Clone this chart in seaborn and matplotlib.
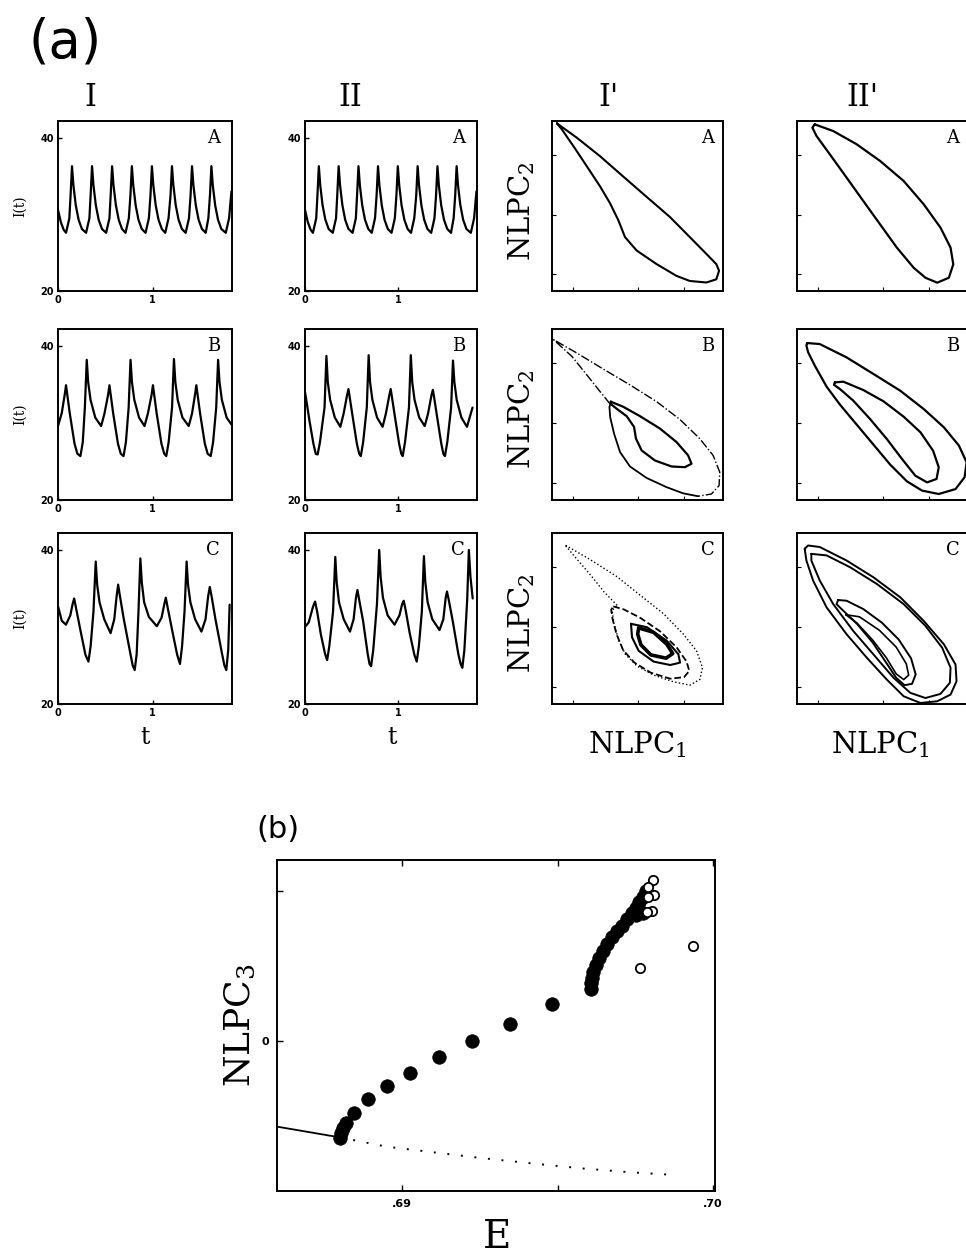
import matplotlib
matplotlib.use("Agg")
import matplotlib.pyplot as plt
import seaborn as sns

W, H = 966, 1259

# ---------------------------------------------------------------------------
# (a) time series I(t), columns I and II, rows A/B/C
# ---------------------------------------------------------------------------
A_T = [0.000, 0.030, 0.060,
       0.085, 0.120, 0.133, 0.148, 0.163, 0.188, 0.218, 0.253,
       0.297, 0.332, 0.345, 0.360, 0.375, 0.400, 0.430, 0.465,
       0.509, 0.544, 0.557, 0.572, 0.587, 0.612, 0.642, 0.677,
       0.714, 0.749, 0.766, 0.781, 0.796, 0.821, 0.851, 0.886,
       0.926, 0.961, 0.978, 0.993, 1.008, 1.033, 1.063, 1.098,
       1.134, 1.169, 1.190, 1.205, 1.220, 1.245, 1.275, 1.310,
       1.350, 1.385, 1.402, 1.417, 1.432, 1.457, 1.487, 1.522,
       1.562, 1.590, 1.607, 1.622, 1.637, 1.662, 1.692, 1.727,
       1.774, 1.809, 1.834]
A_I = [30.6, 29.0, 28.0,
       27.6, 29.5, 32.5, 36.3, 33.8, 31.2, 29.3, 28.1,
       27.6, 29.5, 32.5, 36.3, 33.8, 31.2, 29.3, 28.1,
       27.6, 29.5, 32.5, 36.3, 33.8, 31.2, 29.3, 28.1,
       27.6, 29.5, 32.5, 36.3, 33.8, 31.2, 29.3, 28.1,
       27.6, 29.5, 32.5, 36.3, 33.8, 31.2, 29.3, 28.1,
       27.6, 29.5, 32.5, 36.3, 33.8, 31.2, 29.3, 28.1,
       27.6, 29.5, 32.5, 36.3, 33.8, 31.2, 29.3, 28.1,
       27.6, 29.5, 32.5, 36.3, 33.8, 31.2, 29.3, 28.1,
       27.6, 29.5, 33.0]

IB_T = [0.000, 0.040, 0.070, 0.085, 0.100, 0.125, 0.175, 0.205, 0.237, 0.262, 0.284, 0.304,
        0.319, 0.344, 0.394, 0.456, 0.491, 0.529, 0.544, 0.559, 0.584, 0.634, 0.664, 0.693,
        0.718, 0.747, 0.767, 0.782, 0.807, 0.857, 0.915, 0.950, 0.989, 1.004, 1.019, 1.044,
        1.094, 1.124, 1.145, 1.170, 1.206, 1.226, 1.241, 1.266, 1.316, 1.382, 1.417, 1.448,
        1.463, 1.478, 1.503, 1.553, 1.583, 1.615, 1.640, 1.673, 1.693, 1.708, 1.733, 1.783,
        1.834]
IB_I = [29.6, 31.3, 33.6, 34.9, 33.5, 31.2, 27.3, 26.0, 25.7, 27.5, 32.0, 38.2,
        35.3, 33.0, 30.7, 29.6, 31.2, 33.6, 34.9, 33.5, 31.2, 27.3, 26.0, 25.7,
        27.5, 32.0, 38.2, 35.3, 33.0, 30.7, 29.6, 31.2, 33.6, 34.9, 33.5, 31.2,
        27.3, 26.0, 25.7, 27.5, 32.0, 38.3, 35.3, 33.0, 30.7, 29.6, 31.2, 33.6,
        34.9, 33.5, 31.2, 27.3, 26.0, 25.7, 27.5, 32.0, 38.2, 35.3, 33.0, 30.7,
        29.8]

IIB_T = [0.000, 0.020, 0.045, 0.090, 0.115, 0.135, 0.160, 0.209, 0.229, 0.244, 0.269, 0.319,
         0.378, 0.413, 0.450, 0.465, 0.480, 0.505, 0.555, 0.580, 0.597, 0.622, 0.661, 0.681,
         0.696, 0.721, 0.771, 0.830, 0.865, 0.902, 0.917, 0.932, 0.957, 1.007, 1.030, 1.045,
         1.070, 1.112, 1.132, 1.147, 1.172, 1.222, 1.281, 1.316, 1.353, 1.368, 1.383, 1.408,
         1.458, 1.480, 1.497, 1.522, 1.563, 1.583, 1.598, 1.623, 1.673, 1.733, 1.792]
IIB_I = [34.0, 32.5, 30.5, 27.3, 26.0, 25.9, 27.5, 32.0, 38.7, 35.3, 33.0, 30.7,
         29.5, 31.2, 33.6, 34.4, 33.2, 31.2, 27.3, 26.0, 25.7, 27.5, 32.0, 38.8,
         35.3, 33.0, 30.7, 29.5, 31.2, 33.6, 34.4, 33.2, 31.2, 27.3, 26.0, 25.7,
         27.5, 32.0, 38.8, 35.3, 33.0, 30.7, 29.6, 31.2, 33.6, 34.3, 33.2, 31.2,
         27.3, 26.0, 25.7, 27.5, 32.0, 38.1, 35.3, 33.0, 30.7, 29.5, 32.0]

IC_T = [0.000, 0.040, 0.084, 0.130, 0.155, 0.171, 0.190, 0.240, 0.290, 0.322, 0.345, 0.375,
        0.399, 0.414, 0.439, 0.489, 0.556, 0.595, 0.620, 0.636, 0.655, 0.696, 0.766, 0.790,
        0.811, 0.832, 0.851, 0.871, 0.886, 0.911, 0.961, 1.045, 1.095, 1.125, 1.140, 1.160,
        1.210, 1.260, 1.290, 1.312, 1.338, 1.360, 1.375, 1.400, 1.450, 1.517, 1.560, 1.588,
        1.605, 1.624, 1.665, 1.735, 1.760, 1.780, 1.800, 1.815]
IC_I = [32.7, 30.8, 30.3, 31.5, 33.0, 33.7, 32.5, 29.4, 26.4, 25.5, 27.5, 32.0,
        38.5, 35.5, 33.2, 31.0, 29.2, 31.0, 34.0, 35.5, 34.0, 31.0, 26.5, 25.0,
        24.4, 26.5, 32.0, 38.9, 35.8, 33.2, 31.3, 30.1, 31.2, 33.0, 33.8, 32.5,
        29.4, 26.4, 25.2, 27.5, 32.0, 38.5, 35.5, 33.2, 31.0, 29.4, 31.0, 34.0,
        35.2, 34.0, 31.0, 26.5, 25.0, 24.4, 27.0, 32.9]

IIC_T = [0.000, 0.040, 0.085, 0.108, 0.130, 0.170, 0.215, 0.237, 0.260, 0.300, 0.324, 0.339,
         0.364, 0.414, 0.481, 0.520, 0.545, 0.561, 0.580, 0.621, 0.671, 0.690, 0.707, 0.730,
         0.770, 0.794, 0.809, 0.834, 0.884, 0.958, 1.010, 1.040, 1.056, 1.075, 1.120, 1.170,
         1.195, 1.218, 1.250, 1.272, 1.287, 1.312, 1.362, 1.439, 1.480, 1.505, 1.519, 1.538,
         1.580, 1.640, 1.665, 1.683, 1.705, 1.735, 1.753, 1.770, 1.794]
IIC_I = [30.0, 30.6, 32.6, 33.3, 32.0, 29.0, 26.5, 25.7, 27.5, 32.0, 39.1, 35.8,
         33.2, 31.0, 29.4, 31.0, 33.8, 34.8, 33.5, 30.8, 26.5, 25.2, 24.9, 27.0,
         33.0, 40.0, 36.5, 33.8, 31.5, 30.3, 31.5, 33.0, 33.4, 32.3, 29.2, 26.4,
         25.5, 27.5, 32.0, 39.2, 35.8, 33.2, 31.0, 29.6, 31.0, 33.8, 34.6, 33.5,
         30.8, 26.5, 25.2, 24.7, 27.0, 33.5, 40.0, 36.5, 33.7]

# ---------------------------------------------------------------------------
# (a) phase portraits NLPC1 vs NLPC2 (normalised panel units), columns I' and II'
# ---------------------------------------------------------------------------
IPA_X = [0.029, 0.146, 0.282, 0.417, 0.553, 0.689, 0.806, 0.903, 0.961, 0.977, 0.961, 0.903,
         0.806, 0.728, 0.612, 0.495, 0.427, 0.388, 0.340, 0.282, 0.204, 0.126, 0.058, 0.029]
IPA_Y = [0.986, 0.901, 0.792, 0.673, 0.554, 0.436, 0.317, 0.218, 0.158, 0.119, 0.069, 0.050,
         0.059, 0.089, 0.158, 0.238, 0.317, 0.416, 0.515, 0.614, 0.733, 0.851, 0.950, 0.986]

IIPA_X = [0.104, 0.212, 0.349, 0.486, 0.624, 0.741, 0.839, 0.898, 0.914, 0.888, 0.820,
          0.751, 0.682, 0.584, 0.486, 0.388, 0.290, 0.192, 0.114, 0.090, 0.104]
IIPA_Y = [0.980, 0.941, 0.863, 0.765, 0.647, 0.510, 0.373, 0.255, 0.157, 0.078, 0.049,
          0.078, 0.137, 0.255, 0.392, 0.529, 0.667, 0.804, 0.912, 0.961, 0.980]

IPB_DASH_X = [0.340, 0.282, 0.204, 0.117, 0.010, 0.146, 0.301, 0.456, 0.612, 0.748, 0.864,
              0.942, 0.981, 0.977, 0.932, 0.854]
IPB_DASH_Y = [0.561, 0.633, 0.731, 0.839, 0.937, 0.859, 0.765, 0.673, 0.575, 0.471, 0.359,
              0.261, 0.163, 0.084, 0.035, 0.022]
IPB_LOW_X = [0.854, 0.767, 0.670, 0.553, 0.456, 0.398, 0.363, 0.340, 0.336, 0.344]
IPB_LOW_Y = [0.022, 0.039, 0.075, 0.129, 0.196, 0.280, 0.388, 0.486, 0.545, 0.569]
IPB_IN_X = [0.344, 0.417, 0.515, 0.631, 0.728, 0.796, 0.816, 0.777, 0.699, 0.602, 0.524,
            0.491, 0.480, 0.437, 0.379, 0.344, 0.344]
IPB_IN_Y = [0.575, 0.545, 0.490, 0.418, 0.339, 0.261, 0.212, 0.192, 0.196, 0.231, 0.290,
            0.359, 0.427, 0.490, 0.533, 0.561, 0.575]

IIPB_OUT_X = [0.059, 0.133, 0.290, 0.447, 0.604, 0.741, 0.859, 0.947, 0.992, 0.980, 0.927,
              0.829, 0.731, 0.643, 0.545, 0.447, 0.349, 0.251, 0.173, 0.104, 0.065, 0.055, 0.059]
IIPB_OUT_Y = [0.918, 0.912, 0.834, 0.737, 0.639, 0.532, 0.425, 0.318, 0.220, 0.133, 0.064,
              0.035, 0.055, 0.109, 0.207, 0.324, 0.441, 0.558, 0.663, 0.786, 0.864, 0.903, 0.918]
IIPB_IN_X = [0.222, 0.271, 0.388, 0.506, 0.624, 0.722, 0.796, 0.829, 0.816, 0.761, 0.692,
             0.614, 0.525, 0.427, 0.329, 0.251, 0.216, 0.222]
IIPB_IN_Y = [0.688, 0.692, 0.643, 0.577, 0.487, 0.396, 0.288, 0.191, 0.123, 0.103, 0.142,
             0.240, 0.357, 0.474, 0.581, 0.649, 0.674, 0.688]

IPC_TAIL_X = [0.381, 0.304, 0.226, 0.149, 0.075, 0.226, 0.381, 0.516, 0.652, 0.768, 0.845,
              0.880, 0.865, 0.807, 0.710, 0.594, 0.497, 0.429, 0.391, 0.362, 0.352, 0.381]
IPC_TAIL_Y = [0.577, 0.656, 0.754, 0.843, 0.931, 0.843, 0.744, 0.636, 0.528, 0.409, 0.311,
              0.213, 0.144, 0.110, 0.130, 0.169, 0.222, 0.291, 0.370, 0.469, 0.547, 0.577]
IPC_MID_X = [0.358, 0.420, 0.516, 0.632, 0.729, 0.787, 0.803, 0.772, 0.691, 0.578, 0.482,
             0.416, 0.377, 0.354, 0.346, 0.358]
IPC_MID_Y = [0.571, 0.553, 0.504, 0.425, 0.331, 0.248, 0.193, 0.157, 0.148, 0.183, 0.242,
             0.315, 0.409, 0.498, 0.551, 0.571]
IPC_IN_X = [0.462, 0.555, 0.671, 0.739, 0.749, 0.691, 0.594, 0.507, 0.468, 0.462]
IPC_IN_Y = [0.469, 0.449, 0.370, 0.291, 0.242, 0.228, 0.248, 0.311, 0.390, 0.469]
IPC_CORE_X = [0.507, 0.594, 0.671, 0.706, 0.667, 0.578, 0.520, 0.501, 0.507]
IPC_CORE_Y = [0.445, 0.419, 0.350, 0.295, 0.268, 0.287, 0.346, 0.409, 0.445]

IIPC_O1_X = [0.045, 0.065, 0.133, 0.290, 0.447, 0.604, 0.741, 0.859, 0.927, 0.933, 0.898,
             0.820, 0.722, 0.624, 0.525, 0.408, 0.290, 0.173, 0.094, 0.055, 0.045]
IIPC_O1_Y = [0.908, 0.927, 0.918, 0.839, 0.741, 0.624, 0.486, 0.349, 0.231, 0.133, 0.055,
             0.016, 0.006, 0.045, 0.143, 0.271, 0.408, 0.565, 0.722, 0.839, 0.908]
IIPC_O2_X = [0.084, 0.173, 0.310, 0.467, 0.624, 0.751, 0.849, 0.898, 0.894, 0.839, 0.751,
             0.663, 0.565, 0.447, 0.329, 0.212, 0.133, 0.084, 0.084]
IIPC_O2_Y = [0.878, 0.869, 0.800, 0.702, 0.584, 0.457, 0.329, 0.212, 0.124, 0.059, 0.035,
             0.065, 0.153, 0.290, 0.427, 0.584, 0.722, 0.839, 0.878]
IIPC_I1_X = [0.241, 0.290, 0.388, 0.496, 0.594, 0.667, 0.694, 0.673, 0.629, 0.580, 0.522,
             0.443, 0.349, 0.267, 0.231, 0.241]
IIPC_I1_Y = [0.608, 0.604, 0.555, 0.476, 0.378, 0.267, 0.173, 0.118, 0.110, 0.153, 0.241,
             0.359, 0.471, 0.549, 0.584, 0.608]
IIPC_I2_X = [0.286, 0.365, 0.482, 0.580, 0.639, 0.653, 0.624, 0.580, 0.522, 0.443, 0.353, 0.286]
IIPC_I2_Y = [0.522, 0.510, 0.431, 0.333, 0.235, 0.169, 0.143, 0.176, 0.271, 0.373, 0.471, 0.522]

# ---------------------------------------------------------------------------
# (b) NLPC3 vs E
# ---------------------------------------------------------------------------
SOLID_E = [0.68601, 0.68800]
SOLID_V = [-2.59, -2.91]
DOT_E = [0.68800, 0.68950, 0.69100, 0.69260, 0.69421, 0.69582, 0.69743, 0.69850]
DOT_V = [-2.91, -3.19, -3.36, -3.54, -3.70, -3.85, -3.97, -4.03]
FILLED_E = [0.68802, 0.68805, 0.68810, 0.68819, 0.68846, 0.68892, 0.68952, 0.69025, 0.69118,
            0.69226, 0.69346, 0.69483, 0.69606, 0.69606, 0.69609, 0.69614, 0.69623, 0.69632,
            0.69646, 0.69659, 0.69675, 0.69691, 0.69707, 0.69723, 0.69738, 0.69751, 0.69762,
            0.69773, 0.69783, 0.69753, 0.69775]
FILLED_V = [-2.94, -2.79, -2.64, -2.49, -2.16, -1.76, -1.36, -0.95, -0.49,
            0.00, 0.53, 1.11, 1.56, 1.74, 1.89, 2.09, 2.30, 2.50,
            2.72, 2.93, 3.13, 3.32, 3.49, 3.68, 3.86, 4.03, 4.20,
            4.36, 4.54, 3.81, 3.86]
OPEN_E = [0.69807, 0.69791, 0.69809, 0.69791, 0.69803, 0.69786, 0.69766, 0.69936]
OPEN_V = [4.86, 4.66, 4.41, 4.36, 3.93, 3.90, 2.22, 2.87]

# ---------------------------------------------------------------------------
sns.set_theme(style="ticks")
plt.rcParams["font.family"] = ["DejaVu Serif", "DejaVu Sans"]
plt.rcParams["mathtext.fontset"] = "dejavuserif"
plt.rcParams["axes.linewidth"] = 1.4
for key in ("text.color", "axes.labelcolor", "xtick.color", "ytick.color", "axes.edgecolor"):
    plt.rcParams[key] = "black"

fig = plt.figure(figsize=(W / 100, H / 100), dpi=100)
fig.patch.set_facecolor("white")


def px_axes(x0, y0, x1, y1):
    return fig.add_axes([x0 / W, 1 - y1 / H, (x1 - x0) / W, (y1 - y0) / H])


def px_text(x, y, s, size, **kw):
    fig.text(x / W, 1 - y / H, s, ha="center", va="center", fontsize=size,
             color="black", **kw)


def curve(ax, xs, ys, lw=1.5, ls="-"):
    sns.lineplot(x=xs, y=ys, sort=False, estimator=None, color="black",
                 linewidth=lw, linestyle=ls, ax=ax)


def style_box(ax):
    for sp in ax.spines.values():
        sp.set_visible(True)
        sp.set_color("black")
        sp.set_linewidth(1.4)
    ax.set_facecolor("white")
    ax.set_xlabel("")
    ax.set_ylabel("")


COL_X = [(58, 232), (305, 477), (552, 723), (797, 968)]
ROW_Y = [(121, 291), (329, 500), (533, 704)]
ROW_NAMES = ["A", "B", "C"]

series_I = [(A_T, A_I), (IB_T, IB_I), (IC_T, IC_I)]
series_II = [(A_T, A_I), (IIB_T, IIB_I), (IIC_T, IIC_I)]

for r, (y0, y1) in enumerate(ROW_Y):
    for c, data in enumerate([series_I, series_II]):
        x0, x1 = COL_X[c]
        ax = px_axes(x0, y0, x1, y1)
        t, i = data[r]
        curve(ax, t, i, lw=1.6)
        style_box(ax)
        ax.set_xlim(0, 1.84)
        ax.set_ylim(20, 42.2)
        ax.set_xticks([0, 1])
        ax.set_yticks([20, 40])
        ax.set_xticklabels(["0", "1"], fontsize=7, fontweight="bold", family="DejaVu Sans")
        ax.set_yticklabels(["20", "40"], fontsize=7, fontweight="bold", family="DejaVu Sans")
        ax.tick_params(direction="in", length=3, width=1, pad=3)
        ax.text(0.93, 0.9, ROW_NAMES[r], transform=ax.transAxes, ha="right", va="center",
                fontsize=13, color="black")
        if c == 0:
            px_text(20, (y0 + y1) / 2, "I(t)", 10, rotation=90)

loops = {
    (0, 0): [(IPA_X, IPA_Y, 1.5, "-")],
    (0, 1): [(IIPA_X, IIPA_Y, 1.6, "-")],
    (1, 0): [(IPB_DASH_X, IPB_DASH_Y, 1.0, "-."), (IPB_LOW_X, IPB_LOW_Y, 1.3, "-"),
             (IPB_IN_X, IPB_IN_Y, 1.6, "-")],
    (1, 1): [(IIPB_OUT_X, IIPB_OUT_Y, 1.6, "-"), (IIPB_IN_X, IIPB_IN_Y, 1.6, "-")],
    (2, 0): [(IPC_TAIL_X, IPC_TAIL_Y, 1.0, ":"), (IPC_MID_X, IPC_MID_Y, 1.3, "--"),
             (IPC_IN_X, IPC_IN_Y, 1.5, "-"), (IPC_CORE_X, IPC_CORE_Y, 2.6, "-")],
    (2, 1): [(IIPC_O1_X, IIPC_O1_Y, 1.4, "-"), (IIPC_O2_X, IIPC_O2_Y, 1.4, "-"),
             (IIPC_I1_X, IIPC_I1_Y, 1.4, "-"), (IIPC_I2_X, IIPC_I2_Y, 1.2, "-")],
}

for (r, c), items in loops.items():
    x0, x1 = COL_X[c + 2]
    y0, y1 = ROW_Y[r]
    ax = px_axes(x0, y0, x1, y1)
    for xs, ys, lw, ls in items:
        curve(ax, xs, ys, lw=lw, ls=ls)
    style_box(ax)
    ax.set_xlim(0, 1)
    ax.set_ylim(0, 1)
    ax.set_xticks([0.12, 0.5, 0.77])
    ax.set_yticks([0.1, 0.45, 0.8])
    ax.set_xticklabels([])
    ax.set_yticklabels([])
    ax.tick_params(direction="in", length=3, width=0.8)
    ax.text(0.95, 0.9, ROW_NAMES[r], transform=ax.transAxes, ha="right", va="center",
            fontsize=13, color="black")
    if c == 0:
        px_text(522, (y0 + y1) / 2 + 5, r"NLPC$_2$", 21, rotation=90)

# headers of (a)
px_text(65, 42, "(a)", 38, family="DejaVu Sans")
px_text(90, 97, "I", 22)
px_text(350, 97, "II", 22)
px_text(608, 97, "I'", 22)
px_text(862, 97, "II'", 22)
px_text(145, 738, "t", 17)
px_text(392, 738, "t", 17)
px_text(637, 745, r"NLPC$_1$", 21)
px_text(880, 745, r"NLPC$_1$", 21)

# ---------------------------------------------------------------------------
# (b)
axb = px_axes(277, 860, 715, 1191)
curve(axb, SOLID_E, SOLID_V, lw=1.3)
curve(axb, DOT_E, DOT_V, lw=1.4, ls=(0, (1, 6)))
sns.scatterplot(x=FILLED_E, y=FILLED_V, color="black", s=95, edgecolor="black",
                linewidth=0.5, ax=axb, zorder=3)
sns.scatterplot(x=OPEN_E, y=OPEN_V, facecolor="white", s=45, edgecolor="black",
                linewidth=1.3, ax=axb, zorder=4)
style_box(axb)
axb.set_xlim(0.68598, 0.70006)
axb.set_ylim(-4.53, 5.47)
axb.set_xticks([0.69, 0.70])
axb.set_xticklabels([".69", ".70"], fontsize=8, fontweight="bold", family="DejaVu Sans")
axb.set_xticks([0.695], minor=True)
axb.set_yticks([0])
axb.set_yticklabels(["0"], fontsize=8, fontweight="bold", family="DejaVu Sans")
axb.set_yticks([4.54], minor=True)
axb.tick_params(which="both", direction="in", length=4, width=1, pad=6, top=True)

px_text(278, 830, "(b)", 22, family="DejaVu Sans")
px_text(240, 1025, r"NLPC$_3$", 26, rotation=90)
px_text(497, 1237, "E", 28)

fig.savefig("out.png", dpi=100, facecolor="white")
